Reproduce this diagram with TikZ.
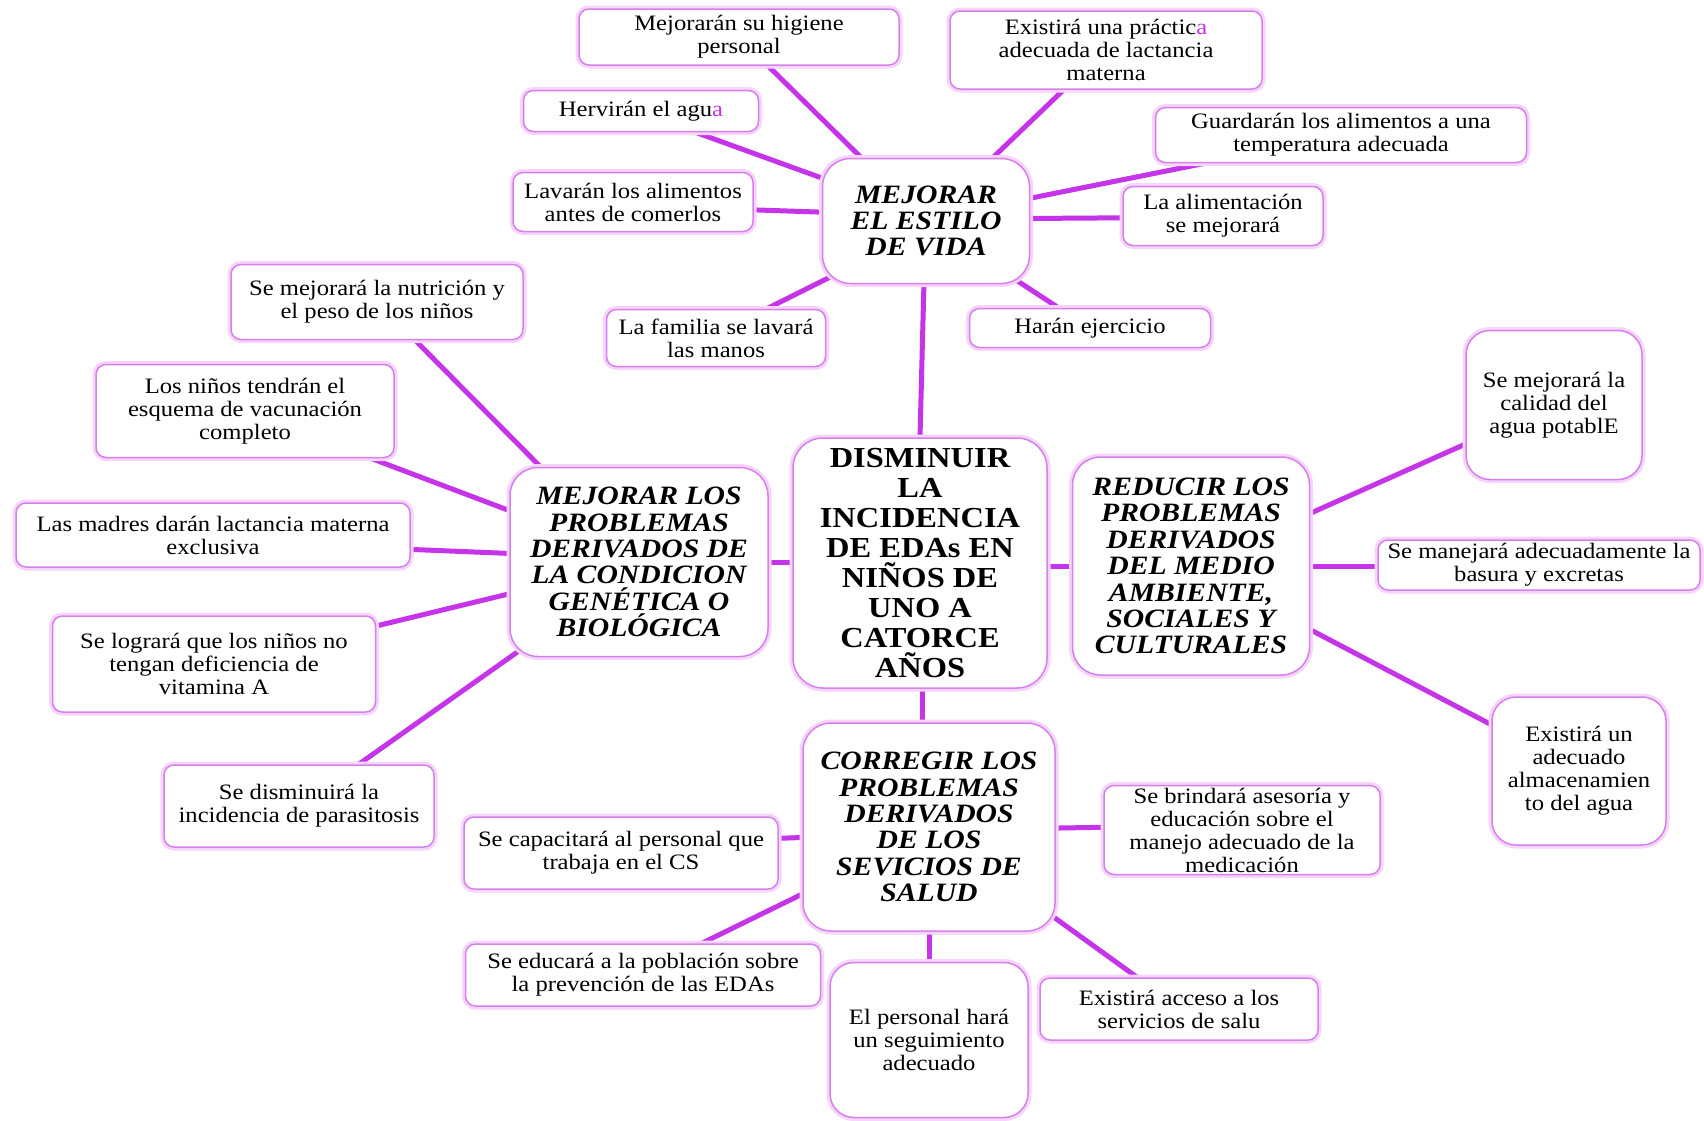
\documentclass[tikz,border=0pt]{standalone}
\usepackage{fontspec}
\setmainfont[FakeStretch=1.12]{Liberation Serif}
\usetikzlibrary{calc,backgrounds}
\definecolor{linkviolet}{RGB}{198,52,234}
\definecolor{boxedge}{RGB}{214,128,236}
\definecolor{boxglow}{RGB}{246,212,251}
\begin{document}
\begin{tikzpicture}[x=1pt,y=-1pt,
  box/.style={draw=boxedge, line width=1.5pt, fill=white, rounded corners=10pt,
    align=center, inner sep=0pt, font=\fontsize{22}{23}\selectfont,
    preaction={draw=boxglow, line width=7pt}},
  tall/.style={box, rounded corners=24pt},
  hub/.style={box, rounded corners=28pt, font=\fontsize{26.5}{26.4}\selectfont\bfseries\itshape},
  core/.style={box, rounded corners=30pt, font=\fontsize{29}{30}\selectfont\bfseries},
  sz/.style 2 args={minimum width=#1pt, minimum height=#2pt},
  link/.style={draw=linkviolet, line width=5pt}]
\useasboundingbox (0,0) rectangle (1704,1120);

% central goal
\node[core, sz={254}{250}] (ctr) at (920,563)
  {DISMINUIR\\LA\\INCIDENCIA\\DE EDAs EN\\NIÑOS DE\\UNO A\\CATORCE\\AÑOS};

% lifestyle branch
\node[hub, sz={207}{125}] (hA) at (926,221) {MEJORAR\\EL ESTILO\\DE VIDA};
\node[box, sz={320}{56}] (A1) at (739,37) {Mejorarán su higiene\\personal};
\node[box, sz={312}{78}] (A2) at (1106,50)
  {Existirá una práctic\textcolor{linkviolet}{a}\\adecuada de lactancia\\materna};
\node[box, sz={235}{41}] (A3) at (641,111) {Hervirán el agu\textcolor{linkviolet}{a}};
\node[box, sz={371}{55}] (A4) at (1341,135) {Guardarán los alimentos a una\\temperatura adecuada};
\node[box, sz={240}{59}] (A5) at (633,202) {Lavarán los alimentos\\antes de comerlos};
\node[box, sz={200}{59}] (A6) at (1223,216) {La alimentación\\se mejorará};
\node[box, sz={219}{57}] (A7) at (716,338) {La familia se lavará\\las manos};
\node[box, sz={241}{39}] (A8) at (1090,328) {Harán ejercicio};

% genetic / biological branch
\node[hub, sz={258}{189}] (hB) at (639,562)
  {MEJORAR LOS\\PROBLEMAS\\DERIVADOS DE\\LA CONDICION\\GENÉTICA O\\BIOLÓGICA};
\node[box, sz={292}{75}] (B1) at (377,302) {Se mejorará la nutrición y\\el peso de los niños};
\node[box, sz={298}{93}] (B2) at (245,411) {Los niños tendrán el\\esquema de vacunación\\completo};
\node[box, sz={394}{64}] (B3) at (213,535) {Las madres darán lactancia materna\\exclusiva};
\node[box, sz={323}{96}] (B4) at (214,664) {Se logrará que los niños no\\tengan deficiencia de\\vitamina A};
\node[box, sz={270}{82}] (B5) at (299,806) {Se disminuirá la\\incidencia de parasitosis};

% environmental branch
\node[hub, sz={237}{218}] (hC) at (1191,566)
  {REDUCIR LOS\\PROBLEMAS\\DERIVADOS\\DEL MEDIO\\AMBIENTE,\\SOCIALES Y\\CULTURALES};
\node[tall, sz={176}{149}] (C1) at (1554,405) {Se mejorará la\\calidad del\\agua potablE};
\node[box, sz={322}{50}] (C2) at (1539,565) {Se manejará adecuadamente la\\basura y excretas};
\node[tall, sz={174}{148}] (C3) at (1579,771) {Existirá un\\adecuado\\almacenamien\\to del agua};

% health services branch
\node[hub, sz={252}{208}] (hD) at (929,827)
  {CORREGIR LOS\\PROBLEMAS\\DERIVADOS\\DE LOS\\SEVICIOS DE\\SALUD};
\node[box, sz={314}{72}] (D1) at (621,853) {Se capacitará al personal que\\trabaja en el CS};
\node[box, sz={276}{89}] (D2) at (1242,830)
  {Se brindará asesoría y\\educación sobre el\\manejo adecuado de la\\medicación};
\node[box, sz={355}{62}] (D3) at (643,975) {Se educará a la población sobre\\la prevención de las EDAs};
\node[tall, sz={198}{155}] (D4) at (929,1040) {El personal hará\\un seguimiento\\adecuado};
\node[box, sz={278}{62}] (D5) at (1179,1009) {Existirá acceso a los\\servicios de salu};

\begin{pgfonlayer}{background}
  \fill[white] (0,0) rectangle (1704,1120);
  % lifestyle links
  \draw[link] ($(A1.south west)!0.59!(A1.south east)$) -- ($(hA.north west)!0.19!(hA.north east)$);
  \draw[link] ($(A2.south west)!0.365!(A2.south east)$) -- ($(hA.north west)!0.82!(hA.north east)$);
  \draw[link] ($(A3.south west)!0.73!(A3.south east)$) -- ($(hA.north west)!0.16!(hA.south west)$);
  \draw[link] ($(A4.south west)!0.135!(A4.south east)$) -- ($(hA.north east)!0.32!(hA.south east)$);
  \draw[link] ($(A5.north east)!0.63!(A5.south east)$) -- ($(hA.north west)!0.43!(hA.south west)$);
  \draw[link] ($(A6.north west)!0.53!(A6.south west)$) -- ($(hA.north east)!0.48!(hA.south east)$);
  \draw[link] ($(A7.north west)!0.73!(A7.north east)$) -- ($(hA.south west)+(14,-10)$);
  \draw[link] ($(A8.north west)!0.37!(A8.north east)$) -- ($(hA.south east)+(-20,-8)$);
  \draw[link] ($(hA.south west)!0.49!(hA.south east)$) -- ($(ctr.north west)!0.5!(ctr.north east)$);
  % genetic / biological links
  \draw[link] ($(B1.south west)!0.63!(B1.south east)$) -- ($(hB.north west)!0.12!(hB.north east)$);
  \draw[link] ($(B2.south west)!0.92!(B2.south east)$) -- ($(hB.north west)!0.23!(hB.south west)$);
  \draw[link] ($(B3.north east)!0.72!(B3.south east)$) -- ($(hB.north west)!0.455!(hB.south west)$);
  \draw[link] ($(B4.north east)!0.11!(B4.south east)$) -- ($(hB.north west)!0.667!(hB.south west)$);
  \draw[link] ($(B5.north west)!0.72!(B5.north east)$) -- ($(hB.south west)+(12,-8)$);
  \draw[link] (hB.east) -- (hB.east -| ctr.west);
  % environmental links
  \draw[link] (hC.west -| ctr.east) -- (hC.west);
  \draw[link] ($(hC.north east)!0.26!(hC.south east)$) -- ($(C1.north west)!0.76!(C1.south west)$);
  \draw[link] (hC.east) -- (hC.east -| C2.west);
  \draw[link] ($(hC.north east)!0.79!(hC.south east)$) -- ($(C3.north west)!0.19!(C3.south west)$);
  % health services links
  \draw[link] ($(ctr.south west)!0.51!(ctr.south east)$) coordinate (ctrfoot)
    -- (ctrfoot |- hD.north);
  \draw[link] ($(D1.north east)!0.3!(D1.south east)$) -- ($(hD.north west)!0.55!(hD.south west)$);
  \draw[link] ($(D3.north west)!0.665!(D3.north east)$) -- ($(hD.north west)!0.82!(hD.south west)$);
  \draw[link] ($(D2.north west)!0.47!(D2.south west)$) -- ($(hD.north east)!0.505!(hD.south east)$);
  \draw[link] (hD.south) -- (D4.north);
  \draw[link] ($(D5.north west)!0.35!(D5.north east)$) -- ($(hD.south east)+(-15,-24)$);
\end{pgfonlayer}
\end{tikzpicture}
\end{document}
